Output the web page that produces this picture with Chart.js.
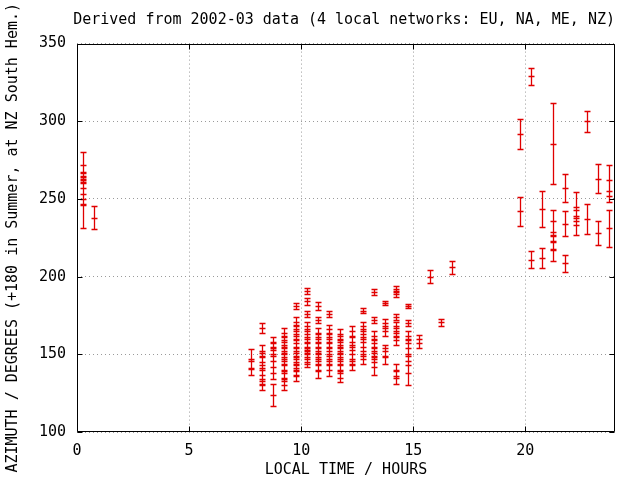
<!DOCTYPE html>
<html>
<head>
<meta charset="utf-8">
<script src="https://cdn.jsdelivr.net/npm/chart.js@4.4.1/dist/chart.umd.min.js"></script>
<style>
  body { margin: 0; background: #fff; }
  canvas { display: block; }
</style>
</head>
<body>
<canvas id="azimuth" width="617" height="484"></canvas>
<script>
// local time of each bin (hours)
const times = [0.25, 0.75, 7.75, 8.25, 8.75, 9.25, 9.75, 10.25, 10.75, 11.25, 11.75,
  12.25, 12.75, 13.25, 13.75, 14.25, 14.75, 15.25, 15.75, 16.25, 16.75,
  19.75, 20.25, 20.75, 21.25, 21.75, 22.25, 22.75, 23.25, 23.75];

// azimuth values in each bin (degrees)
const azimuths = [
  [272, 265, 260, 257, 250, 246],
  [238],
  [147, 141.5],
  [167, 152, 148, 145, 140, 137, 134, 130],
  [158, 153, 150, 146, 142, 138, 124],
  [164, 159, 155, 151, 147, 143, 139, 134, 130],
  [181, 171, 166, 162, 157, 152, 148, 144, 140, 136],
  [191, 184, 176, 168, 163, 158, 154, 150, 148, 145],
  [181, 172, 164, 160, 155, 151, 147, 143, 139],
  [176, 166, 161, 157, 152, 147, 143, 140],
  [163, 159, 155, 151, 147, 143, 139, 135],
  [165, 158, 153, 147, 143],
  [178, 168, 163, 158, 152, 147],
  [190, 172, 162, 157, 152, 148, 142],
  [183, 170, 165, 152, 149],
  [192, 189, 174, 168, 164, 159, 140, 135],
  [181, 170, 162, 157, 150, 146, 138],
  [160, 157],
  [200],
  [170.5],
  [206],
  [292, 242],
  [329, 211],
  [243.5, 212],
  [285.5, 236, 226, 222, 218],
  [257, 234, 208.5],
  [245, 238, 233],
  [300, 237],
  [263, 228],
  [262, 255, 231]
];

// +/- error on each value
const errors = [
  [8, 2.5, 3, 10, 3, 15],
  [7.5],
  [6.5, 4.5],
  [3, 4, 3, 4, 3, 3, 3, 3],
  [3, 4, 4, 4, 4, 4, 7],
  [3, 3, 3, 3, 3, 3, 4, 4, 3],
  [2, 3, 3, 3, 3, 3, 3, 3, 3, 3],
  [2, 2, 2, 3, 3, 3, 3, 3, 4, 3],
  [2.5, 2, 3, 3, 3, 3, 3, 3, 4],
  [2, 3, 3, 3, 3, 3, 3, 4],
  [3, 3, 3, 3, 3, 3, 4, 3],
  [3, 3, 3, 3, 3],
  [1.5, 3, 3, 3, 3, 3],
  [2, 2, 3, 3, 3, 3, 5],
  [1.5, 3, 3, 4, 5],
  [2, 2, 2, 3, 3, 3, 4, 4],
  [1.5, 2, 3, 3, 4, 3, 8],
  [2.5, 3],
  [4.3],
  [2],
  [4.3],
  [9.7, 9.5],
  [5.5, 5.3],
  [11.7, 6.2],
  [26, 7, 3, 5, 8],
  [9, 8, 5.4],
  [9.5, 5, 6],
  [6.6, 9.8],
  [9.4, 7.8],
  [10, 7, 12]
];

const xTicks = [0, 5, 10, 15, 20];
const yTicks = [100, 150, 200, 250, 300, 350];

const red = '#e00000';
const mono = 'DejaVu Sans Mono';

const points = [];
times.forEach((t, i) => {
  azimuths[i].forEach((a, j) => {
    points.push({ x: t, y: a, err: errors[i][j] });
  });
});

// gnuplot style yerrorbars: vertical bar, end caps and a centre tick
const errorBars = {
  id: 'errorBars',
  afterDatasetsDraw(chart) {
    const { ctx, scales: { x, y } } = chart;
    const half = 3;
    ctx.save();
    ctx.strokeStyle = red;
    ctx.lineWidth = 1.3;
    ctx.beginPath();
    chart.data.datasets[0].data.forEach(p => {
      const px = Math.round(x.getPixelForValue(p.x)) + 0.5;
      const top = Math.round(y.getPixelForValue(p.y + p.err)) + 0.5;
      const mid = Math.round(y.getPixelForValue(p.y)) + 0.5;
      const bot = Math.round(y.getPixelForValue(p.y - p.err)) + 0.5;
      ctx.moveTo(px, top); ctx.lineTo(px, bot);
      [top, mid, bot].forEach(py => {
        ctx.moveTo(px - half, py); ctx.lineTo(px + half, py);
      });
    });
    ctx.stroke();
    ctx.restore();
  }
};

// black frame with inward ticks on all four sides
const frame = {
  id: 'frame',
  afterDraw(chart) {
    const { ctx, chartArea: a, scales: { x, y } } = chart;
    const len = 5;
    ctx.save();
    ctx.strokeStyle = '#000';
    ctx.lineWidth = 1;
    ctx.beginPath();
    const l = Math.round(a.left) + 0.5, r = Math.round(a.right) - 0.5;
    const t = Math.round(a.top) + 0.5, b = Math.round(a.bottom) - 0.5;
    ctx.rect(l, t, r - l, b - t);
    xTicks.forEach(v => {
      const px = Math.round(x.getPixelForValue(v)) + 0.5;
      ctx.moveTo(px, b); ctx.lineTo(px, b - len);
      ctx.moveTo(px, t); ctx.lineTo(px, t + len);
    });
    yTicks.forEach(v => {
      const py = Math.round(y.getPixelForValue(v)) + 0.5;
      ctx.moveTo(l, py); ctx.lineTo(l + len, py);
      ctx.moveTo(r, py); ctx.lineTo(r - len, py);
    });
    ctx.stroke();
    ctx.restore();
  }
};

const gridStyle = { color: '#9a9a9a', lineWidth: 1, drawTicks: false };

new Chart(document.getElementById('azimuth'), {
  type: 'scatter',
  data: {
    datasets: [{
      data: points,
      pointRadius: 0,
      borderColor: red,
      backgroundColor: red
    }]
  },
  options: {
    responsive: false,
    animation: false,
    events: [],
    layout: { padding: { right: 2 } },
    plugins: {
      legend: { display: false },
      tooltip: { enabled: false },
      title: {
        display: true,
        text: 'Derived from 2002-03 data (4 local networks: EU, NA, ME, NZ)',
        align: 'end',
        color: '#000',
        font: { family: mono, size: 15, weight: 'normal' },
        padding: { top: 11, bottom: 14.6 }
      }
    },
    scales: {
      x: {
        type: 'linear',
        min: 0,
        max: 24,
        afterBuildTicks: s => { s.ticks = xTicks.map(v => ({ value: v })); },
        afterFit: s => { s.height = 52; },
        grid: gridStyle,
        border: { display: false, dash: [1, 3] },
        ticks: { color: '#000', padding: 10, maxRotation: 0, font: { family: mono, size: 15 } },
        title: {
          display: true,
          text: 'LOCAL TIME / HOURS',
          color: '#000',
          font: { family: mono, size: 15 },
          padding: { top: 0, bottom: 5 }
        }
      },
      y: {
        min: 100,
        max: 350,
        afterBuildTicks: s => { s.ticks = yTicks.map(v => ({ value: v })); },
        afterFit: s => { s.width = 77; },
        grid: gridStyle,
        border: { display: false, dash: [1, 3] },
        ticks: { color: '#000', padding: 11, font: { family: mono, size: 15 } },
        title: {
          display: true,
          text: 'AZIMUTH / DEGREES (+180 in Summer, at NZ South Hem.)',
          color: '#000',
          font: { family: mono, size: 15 },
          padding: { top: 4, bottom: 0 }
        }
      }
    }
  },
  plugins: [errorBars, frame]
});
</script>
</body>
</html>
